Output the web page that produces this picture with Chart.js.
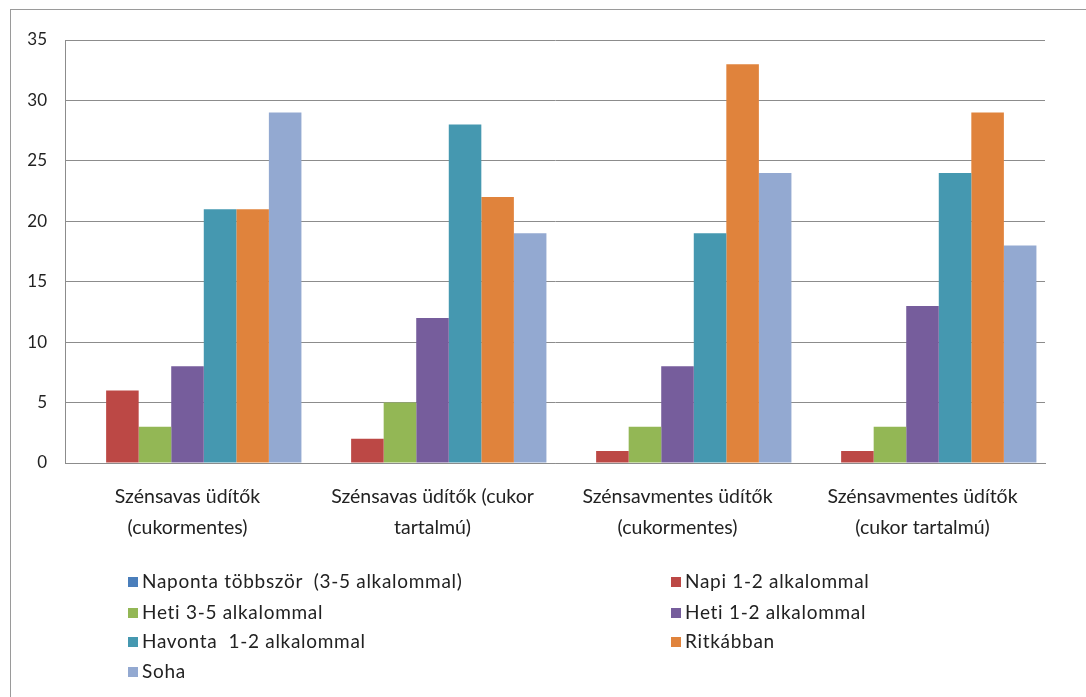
<!DOCTYPE html>
<html>
<head>
<meta charset="utf-8">
<script src="https://cdn.jsdelivr.net/npm/chart.js@4/dist/chart.umd.min.js"></script>
<style>
  html, body { margin: 0; padding: 0; background: #fff; }
  .wrap { position: relative; width: 1086px; height: 697px; overflow: hidden; }
  .frame { position: absolute; left: 10px; top: 9px; width: 1090px; height: 720px; border: 1px solid #9a9a9a; box-sizing: border-box; }
  #myChart { position: absolute; left: 0; top: 0; }
  .legend { position: absolute; left: 0; top: 0; font-family: Lato, "Liberation Sans", sans-serif; font-size: 19px; letter-spacing: 0.7px; color: #222; }
  .legend div { position: absolute; white-space: pre; line-height: 22px; }
  .legend span { display: inline-block; width: 10px; height: 10px; margin-right: 4px; vertical-align: 1px; }
</style>
</head>
<body>
<div class="wrap">
  <div class="frame"></div>
  <canvas id="myChart" width="1086" height="697"></canvas>
  <div class="legend" id="legend"></div>
</div>
<script>
// kategóriák
const categories = [
  ["Szénsavas üdítők", "(cukormentes)"],
  ["Szénsavas üdítők (cukor", "tartalmú)"],
  ["Szénsavmentes üdítők", "(cukormentes)"],
  ["Szénsavmentes üdítők", "(cukor tartalmú)"]
];
const seriesNames = [
  "Naponta többször  (3-5 alkalommal)",
  "Napi 1-2 alkalommal",
  "Heti 3-5 alkalommal",
  "Heti 1-2 alkalommal",
  "Havonta  1-2 alkalommal",
  "Ritkábban",
  "Soha"
];
const naponta = [0, 0, 0, 0];
const napi = [6, 2, 1, 1];
const heti35 = [3, 5, 3, 3];
const heti12 = [8, 12, 8, 13];
const havonta = [21, 28, 19, 24];
const ritkabban = [21, 22, 33, 29];
const soha = [29, 19, 24, 18];
const yTicks = [0, 5, 10, 15, 20, 25, 30, 35];

const colors = ["#4a7ebb", "#bc4845", "#93b755", "#765d9c", "#4598b0", "#e0833c", "#93a9d1"];
const values = [naponta, napi, heti35, heti12, havonta, ritkabban, soha];

const ctx = document.getElementById("myChart");
const myChart = new Chart(ctx, {
  type: "bar",
  data: {
    labels: categories,
    datasets: seriesNames.map(function (name, i) {
      return {
        label: name,
        data: values[i],
        backgroundColor: colors[i],
        borderWidth: 0,
        barPercentage: 1,
        categoryPercentage: 0.93
      };
    })
  },
  options: {
    responsive: false,
    animation: false,
    layout: {
      padding: { top: 40, right: 41, bottom: 0, left: 0 }
    },
    plugins: {
      legend: { display: false },
      tooltip: { enabled: false }
    },
    scales: {
      x: {
        grid: { display: false, drawTicks: false },
        border: { color: "#8c8c8c", width: 1 },
        ticks: {
          padding: 19,
          color: "#222",
          maxRotation: 0,
          autoSkip: false,
          font: { family: "Lato, 'Liberation Sans', sans-serif", size: 19.5, lineHeight: 1.55 }
        },
        afterFit: function (scale) { scale.height = 234; }
      },
      y: {
        min: 0,
        max: 35,
        afterBuildTicks: function (scale) {
          scale.ticks = yTicks.map(function (v) { return { value: v }; });
        },
        grid: { color: "#8c8c8c", lineWidth: 1, drawTicks: false },
        border: { color: "#8c8c8c", width: 1 },
        ticks: {
          padding: 18,
          color: "#222",
          font: { family: "Lato, 'Liberation Sans', sans-serif", size: 17 }
        },
        afterFit: function (scale) { scale.width = 65; }
      }
    }
  }
});

// legenda 2 oszlopban
const legend = document.getElementById("legend");
const legendPos = [
  [128, 570], [671, 570],
  [128, 601], [671, 601],
  [128, 630], [671, 630],
  [128, 660]
];
seriesNames.forEach(function (name, i) {
  const item = document.createElement("div");
  item.style.left = legendPos[i][0] + "px";
  item.style.top = legendPos[i][1] + "px";
  item.innerHTML = '<span style="background:' + colors[i] + '"></span>' + name;
  legend.appendChild(item);
});
</script>
</body>
</html>
